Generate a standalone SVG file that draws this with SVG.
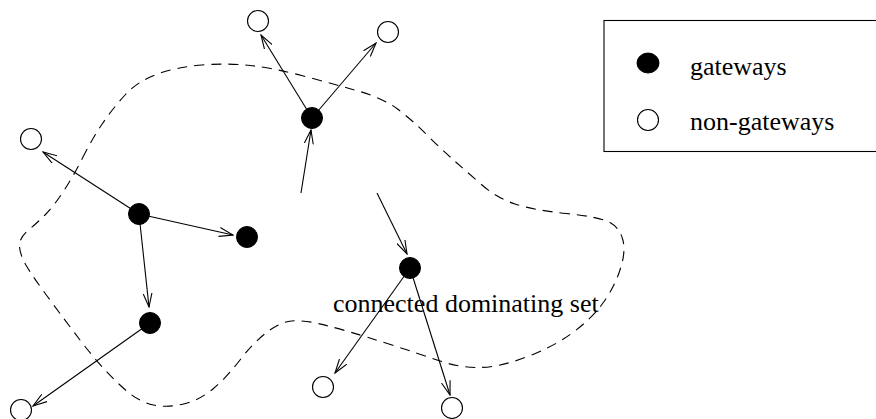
<svg xmlns="http://www.w3.org/2000/svg" width="876" height="419" viewBox="0 0 876 419">
<defs>
<style>
.gw{fill:#000;stroke:#000;stroke-width:1}
.ng{fill:#fff;stroke:#000;stroke-width:1.1}
.ed{fill:none;stroke:#000;stroke-width:1.1;marker-end:url(#ah)}
.lbl{font-family:"Liberation Serif","Times New Roman",serif;font-size:26px;fill:#000}
</style>
<marker id="ah" viewBox="0 0 15 10" refX="14" refY="5" markerWidth="15" markerHeight="10" markerUnits="userSpaceOnUse" orient="auto">
<path d="M0,0.5 L14,5 L0,9.5" fill="none" stroke="#000" stroke-width="1.1"/>
</marker>
</defs>
<rect width="876" height="419" fill="#fff"/>
<path id="cds" d="M82.5,158 Q92,139 102.5,123.5 Q113,108 125.5,94.5 Q138,81 157.5,74 Q177,67 202,65 Q227,63 250,65.5 Q273,68 301.5,75.5 Q330,83 356.5,90.5 Q383,98 397.5,109 Q412,120 426,134 Q440,148 453.5,160 Q467,172 482,185 Q497,198 515,204 Q533,210 566.5,213.5 Q600,217 610,222.5 Q620,228 623,240.5 Q626,253 619.5,271.5 Q613,290 601.5,305 Q590,320 571.5,333.5 Q553,347 526.5,357 Q500,367 480,367.5 Q460,368 438.5,360.5 Q417,353 392,345 Q367,337 350,332 Q333,327 318,323.5 Q303,320 291.5,321 Q280,322 266.5,332.5 Q253,343 240,360 Q227,377 213.5,388.5 Q200,400 183.5,404 Q167,408 153.5,405 Q140,402 128.5,392.5 Q117,383 105,370 Q93,357 80,340 Q67,323 50,300 Q33,277 26.5,266 Q20,255 19.5,246.5 Q19,238 28,230.5 Q37,223 45,215 Q53,207 63,192 Q73,177 82.5,158 Z" fill="none" stroke="#000" stroke-width="1.1" stroke-dasharray="10 7"/>
<g id="connectors">
<line class="ed" x1="312" y1="118" x2="261" y2="35"/>
<line class="ed" x1="312" y1="118" x2="376" y2="43"/>
<line class="ed" x1="301" y1="193" x2="311" y2="130"/>
<line class="ed" x1="377" y1="193" x2="407" y2="254"/>
<line class="ed" x1="410" y1="268" x2="335" y2="373"/>
<line class="ed" x1="410" y1="268" x2="450" y2="395"/>
<line class="ed" x1="139" y1="214" x2="43" y2="152"/>
<line class="ed" x1="139" y1="214" x2="233" y2="235"/>
<line class="ed" x1="139" y1="214" x2="149" y2="307"/>
<line class="ed" x1="150" y1="323" x2="33" y2="406"/>
</g>
<g id="n-top"><circle class="gw" cx="312" cy="118" r="10.5"/></g>
<g id="n-topleft"><circle class="ng" cx="258" cy="21" r="10.5"/></g>
<g id="n-topright"><circle class="ng" cx="388" cy="32" r="10.5"/></g>
<g id="n-mid"><circle class="gw" cx="410" cy="268" r="10.5"/></g>
<g id="n-bot1"><circle class="ng" cx="323" cy="387" r="10.5"/></g>
<g id="n-bot2"><circle class="ng" cx="452" cy="408" r="10.5"/></g>
<g id="n-left"><circle class="gw" cx="139" cy="214" r="10.5"/></g>
<g id="n-farleft"><circle class="ng" cx="31" cy="139" r="10.5"/></g>
<g id="n-right"><circle class="gw" cx="247" cy="237" r="10.5"/></g>
<g id="n-low"><circle class="gw" cx="150" cy="323" r="10.5"/></g>
<g id="n-botleft"><circle class="ng" cx="21" cy="410" r="10.5"/></g>
<text class="lbl" x="333" y="312">connected dominating set</text>
<g id="legend">
<rect x="604" y="20.5" width="290" height="131" fill="none" stroke="#000" stroke-width="1.1"/>
<ellipse class="gw" cx="648" cy="63" rx="11" ry="10"/>
<circle class="ng" cx="648" cy="120" r="10.5"/>
<text class="lbl" x="690" y="75">gateways</text>
<text class="lbl" x="690" y="130">non-gateways</text>
</g>
</svg>
